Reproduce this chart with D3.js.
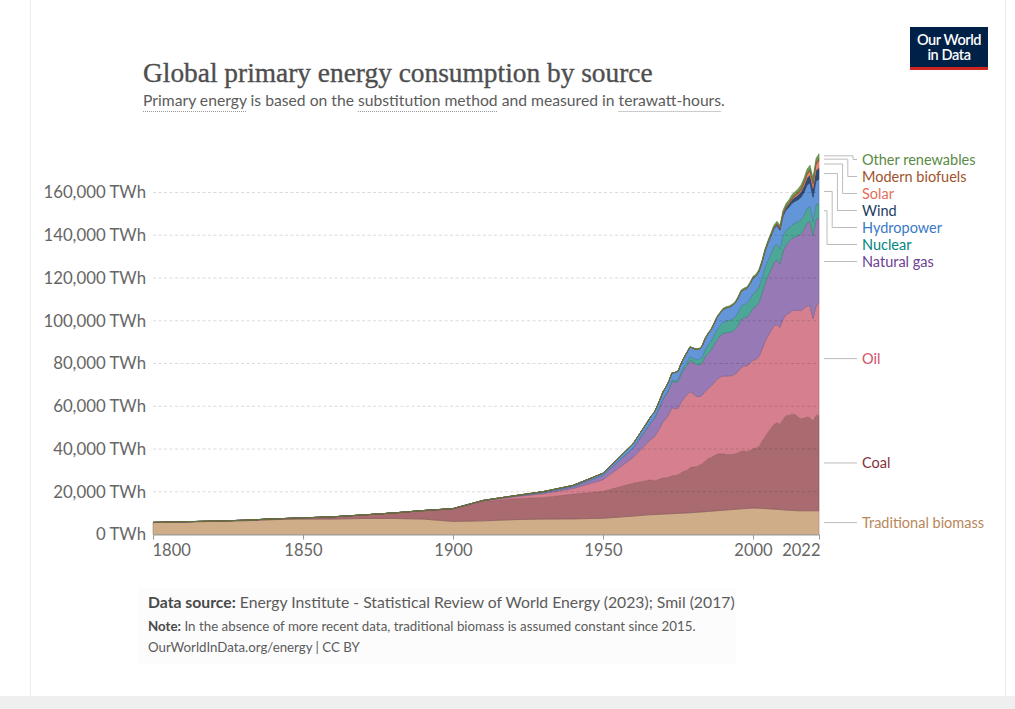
<!DOCTYPE html>
<html>
<head>
<meta charset="utf-8">
<script src="https://cdn.jsdelivr.net/npm/d3@7"></script>
<style>
  body { margin: 0; background: #fff; }
  svg { display: block; font-family: Lato, "Noto Sans", sans-serif; }
</style>
</head>
<body>
<div id="chart"></div>
<script>
// years: decadal (Smil) until 1960, then annual (Energy Institute)
const years = [1800, 1810, 1820, 1830, 1840, 1850, 1860, 1870, 1880, 1890, 1900, 1910, 1920, 1930, 1940, 1950, 1960,
  1965, 1966, 1967, 1968, 1969, 1970, 1971, 1972, 1973, 1974, 1975, 1976, 1977, 1978, 1979, 1980, 1981, 1982, 1983, 1984,
  1985, 1986, 1987, 1988, 1989, 1990, 1991, 1992, 1993, 1994, 1995, 1996, 1997, 1998, 1999, 2000, 2001, 2002, 2003, 2004,
  2005, 2006, 2007, 2008, 2009, 2010, 2011, 2012, 2013, 2014, 2015, 2016, 2017, 2018, 2019, 2020, 2021, 2022];

// values in TWh
const biomass = [5556, 5833, 6111, 6389, 6944, 7222, 7222, 7500, 7500, 7222, 6111, 6389, 6944, 7222, 7300, 7600, 8600,
  9200, 9270, 9340, 9410, 9480, 9560, 9620, 9690, 9760, 9830, 9900, 9970, 10040, 10110, 10180, 10250, 10360, 10470, 10580, 10690,
  10800, 10910, 11020, 11130, 11240, 11350, 11460, 11570, 11680, 11790, 11900, 12000, 12100, 12200, 12300, 12400, 12350, 12300, 12220, 12140,
  12060, 11960, 11860, 11760, 11660, 11560, 11470, 11380, 11290, 11200, 11111, 11111, 11111, 11111, 11111, 11111, 11111, 11111];
const coal = [97, 128, 153, 264, 356, 569, 1061, 1642, 2542, 3856, 5728, 8900, 9800, 10100, 11600, 12600, 15400,
  16140, 16330, 15810, 16110, 16580, 16950, 16950, 17220, 17780, 17780, 18060, 18890, 19720, 20000, 21110, 21390, 21390, 21950, 22500, 23610,
  24720, 25000, 25830, 26390, 26670, 26390, 26110, 25830, 25830, 25830, 26390, 26950, 26950, 26670, 26950, 27780, 28060, 28890, 31390, 33610,
  35830, 37780, 39720, 40560, 40000, 42220, 44170, 44450, 45000, 45000, 43890, 43060, 43340, 43890, 43610, 41950, 44730, 44730];
const oil = [0, 0, 0, 0, 0, 0, 0, 6, 33, 89, 181, 417, 889, 1756, 2653, 5444, 12000,
  17800, 19100, 20400, 22100, 23900, 26200, 27600, 29400, 31800, 31200, 31100, 32900, 34100, 35200, 35600, 34200, 33000, 32100, 32000, 32600,
  32600, 33500, 34100, 35100, 35700, 36500, 36500, 36900, 36800, 37500, 38000, 39000, 39900, 40000, 40900, 41400, 41600, 42100, 43000, 44500,
  45100, 45600, 46200, 45900, 45200, 46800, 47200, 47700, 48400, 48800, 49800, 50600, 51400, 51900, 52400, 47900, 50800, 52900];
const gas = [0, 0, 0, 0, 0, 0, 0, 0, 0, 33, 64, 142, 233, 603, 875, 2092, 4472,
  7300, 7900, 8500, 9200, 10000, 10600, 11200, 11700, 12200, 12400, 12400, 13000, 13400, 13900, 14600, 14800, 14900, 14900, 15100, 16100,
  16600, 16800, 17700, 18500, 19300, 19800, 20300, 20300, 20600, 20700, 21400, 22500, 22400, 22800, 23400, 24300, 24700, 25400, 26200, 27200,
  27900, 28600, 29700, 30400, 29700, 31900, 32600, 33500, 33900, 34200, 35000, 35900, 36900, 38900, 39500, 38700, 40800, 39400];
const nuclear = [0, 0, 0, 0, 0, 0, 0, 0, 0, 0, 0, 0, 0, 0, 0, 0, 0,
  70, 90, 110, 140, 170, 220, 310, 420, 560, 730, 1010, 1160, 1390, 1650, 1710, 1900, 2250, 2420, 2760, 3290,
  3860, 4150, 4500, 4830, 5000, 5250, 5520, 5550, 5780, 5900, 6130, 6350, 6300, 6430, 6660, 6860, 7050, 7180, 7130, 7380,
  7390, 7470, 7290, 7240, 7120, 7300, 6950, 6360, 6390, 6530, 6600, 6660, 6690, 6800, 6980, 6790, 6960, 6700];
const hydro = [0, 0, 0, 0, 0, 0, 0, 0, 0, 0, 50, 100, 180, 370, 540, 930, 1900,
  2560, 2700, 2780, 2880, 3050, 3220, 3350, 3480, 3540, 3840, 3930, 3960, 4060, 4350, 4560, 4640, 4740, 4870, 5050, 5210,
  5320, 5390, 5460, 5640, 5620, 5980, 6140, 6140, 6410, 6480, 6780, 6860, 6960, 7040, 7080, 7290, 7160, 7300, 7310, 7740,
  8060, 8290, 8380, 8710, 8690, 9230, 9420, 9790, 10010, 10180, 10150, 10480, 10610, 10890, 10930, 11320, 11120, 11290];
const wind = [0, 0, 0, 0, 0, 0, 0, 0, 0, 0, 0, 0, 0, 0, 0, 0, 0,
  0, 0, 0, 0, 0, 0, 0, 0, 0, 0, 0, 0, 0, 0, 0, 0, 0, 0, 0, 0,
  0, 0, 0, 0, 0, 10, 10, 12, 15, 20, 25, 30, 35, 45, 60, 85, 105, 145, 175, 230,
  285, 360, 460, 600, 750, 930, 1160, 1370, 1730, 1920, 2210, 2530, 3000, 3320, 3690, 4120, 4790, 5490];
const solar = [0, 0, 0, 0, 0, 0, 0, 0, 0, 0, 0, 0, 0, 0, 0, 0, 0,
  0, 0, 0, 0, 0, 0, 0, 0, 0, 0, 0, 0, 0, 0, 0, 0, 0, 0, 0, 0,
  0, 0, 0, 0, 0, 0, 0, 0, 0, 0, 0, 0, 0, 0, 0, 0, 0, 0, 0, 0,
  10, 15, 20, 35, 55, 90, 180, 270, 370, 500, 690, 880, 1180, 1490, 1840, 2220, 2720, 3450];
const biofuels = [0, 0, 0, 0, 0, 0, 0, 0, 0, 0, 0, 0, 0, 0, 0, 0, 0,
  0, 0, 0, 0, 0, 0, 0, 0, 0, 0, 0, 0, 0, 0, 0, 30, 40, 50, 60, 70,
  80, 90, 90, 90, 90, 100, 100, 100, 100, 100, 110, 110, 110, 110, 110, 110, 120, 140, 160, 180,
  220, 280, 360, 460, 520, 590, 600, 610, 660, 720, 750, 780, 820, 900, 960, 920, 1010, 1100];
const otherRenewables = [0, 0, 0, 0, 0, 0, 0, 0, 0, 0, 0, 0, 0, 0, 0, 0, 40,
  60, 60, 65, 70, 75, 80, 85, 95, 105, 110, 120, 125, 135, 145, 160, 175, 190, 210, 235, 270,
  300, 320, 340, 355, 390, 420, 440, 460, 480, 500, 520, 540, 560, 580, 600, 610, 620, 650, 690, 720,
  760, 800, 850, 900, 950, 1040, 1100, 1180, 1260, 1350, 1430, 1500, 1590, 1680, 1760, 1820, 1900, 1950];

const yTicks = [0, 20000, 40000, 60000, 80000, 100000, 120000, 140000, 160000];
const xTicks = [1800, 1850, 1900, 1950, 2000, 2022];

// bottom to top
const series = [
  { key: "biomass", name: "Traditional biomass", values: biomass, fill: "#cfad89", label: "#b8875a" },
  { key: "coal", name: "Coal", values: coal, fill: "#a96b70", label: "#883039" },
  { key: "oil", name: "Oil", values: oil, fill: "#d6808f", label: "#d0506a" },
  { key: "gas", name: "Natural gas", values: gas, fill: "#977ab5", label: "#6d3e91" },
  { key: "nuclear", name: "Nuclear", values: nuclear, fill: "#4ca797", label: "#00847e" },
  { key: "hydro", name: "Hydropower", values: hydro, fill: "#6396d8", label: "#3a78c9" },
  { key: "wind", name: "Wind", values: wind, fill: "#2f4a75", label: "#1d3d63" },
  { key: "solar", name: "Solar", values: solar, fill: "#ef8a72", label: "#e56e5a" },
  { key: "biofuels", name: "Modern biofuels", values: biofuels, fill: "#b0603c", label: "#a0532c" },
  { key: "other", name: "Other renewables", values: otherRenewables, fill: "#6e9e50", label: "#5a8a45" }
];

const width = 1015, height = 709;
const margin = { top: 192.5, right: 196, bottom: 174.5, left: 153 };

const svg = d3.select("#chart").append("svg")
  .attr("width", width).attr("height", height)
  .attr("viewBox", [0, 0, width, height]);

// page frame
svg.append("rect").attr("x", 0).attr("y", 696).attr("width", width).attr("height", 13).attr("fill", "#efefef");
svg.append("line").attr("x1", 30.5).attr("x2", 30.5).attr("y1", 0).attr("y2", 696).attr("stroke", "#ececec");
svg.append("line").attr("x1", 1005.5).attr("x2", 1005.5).attr("y1", 0).attr("y2", 696).attr("stroke", "#ececec");
svg.append("rect").attr("x", 138).attr("y", 588).attr("width", 598).attr("height", 76).attr("fill", "#fcfcfc");

// build the table for d3.stack
const table = years.map((yr, i) => {
  const row = { year: yr };
  series.forEach(s => row[s.key] = s.values[i]);
  return row;
});

const x = d3.scaleLinear().domain([1800, 2022]).range([margin.left, width - margin.right]);
const y = d3.scaleLinear().domain([0, 160000]).range([height - margin.bottom, margin.top]);

// y labels
svg.append("g")
  .attr("transform", `translate(${margin.left},0)`)
  .call(d3.axisLeft(y).tickValues(yTicks).tickSize(0).tickPadding(7)
    .tickFormat(d => d3.format(",")(d) + " TWh"))
  .call(g => g.select(".domain").remove())
  .call(g => g.selectAll("text").attr("fill", "#666").attr("font-size", 16.8)
    .attr("font-family", "Lato, sans-serif"));

const stack = d3.stack().keys(series.map(s => s.key));
const stacked = stack(table);

const area = d3.area()
  .x(d => x(d.data.year))
  .y0(d => y(d[0]))
  .y1(d => y(d[1]));

svg.append("g")
  .selectAll("path")
  .data(stacked)
  .join("path")
  .attr("d", area)
  .attr("fill", (d, i) => series[i].fill)
  .attr("stroke", (d, i) => d3.color(series[i].fill).darker(0.7))
  .attr("stroke-width", 0.6);

// dashed grid lines on top of the areas
svg.append("g")
  .selectAll("line")
  .data(yTicks.filter(d => d > 0))
  .join("line")
  .attr("x1", margin.left).attr("x2", width - margin.right)
  .attr("y1", d => y(d)).attr("y2", d => y(d))
  .attr("stroke", "#000").attr("stroke-opacity", 0.14)
  .attr("stroke-dasharray", "3,2.5");

// x axis
const xAxis = svg.append("g")
  .attr("transform", `translate(0,${y(0)})`)
  .call(d3.axisBottom(x).tickValues(xTicks).tickFormat(d3.format("d")).tickSize(5).tickPadding(5).tickSizeOuter(0));
xAxis.select(".domain").attr("stroke", "#999");
xAxis.selectAll(".tick line").attr("stroke", "#999");
xAxis.selectAll("text").attr("fill", "#666").attr("font-size", 16.5).attr("font-family", "Lato, sans-serif");
xAxis.selectAll(".tick").filter(d => d === 2022).select("text").attr("text-anchor", "end").attr("dx", 1);
xAxis.selectAll(".tick").filter(d => d === 1800).select("text").attr("text-anchor", "start").attr("dx", -1);

// labels at the right with connector lines
const last = stacked.map((layer, i) => {
  const d = layer[layer.length - 1];
  return { name: series[i].name, color: series[i].label, mid: y((d[0] + d[1]) / 2) };
});
const labels = last.slice().reverse();  // top first
const gap = 17, legendTop = 159.5;
let prev = legendTop - gap;
labels.forEach(l => {
  l.ly = Math.max(l.mid, prev + gap);
  prev = l.ly;
});
const x0 = width - margin.right + 5, x1 = 857;
const cluster = labels.filter(l => Math.abs(l.ly - l.mid) > 2);
cluster.forEach((l, i) => { l.step = 853 - i * (26 / Math.max(1, cluster.length - 1)); });

const leg = svg.append("g");
leg.selectAll("path")
  .data(labels)
  .join("path")
  .attr("fill", "none")
  .attr("stroke", "#bbb")
  .attr("stroke-width", 1)
  .attr("d", l => l.step
    ? `M${x0},${l.mid}H${l.step}V${l.ly}H${x1}`
    : `M${x0},${l.ly}H${x1}`);

leg.selectAll("text")
  .data(labels)
  .join("text")
  .attr("x", 862)
  .attr("y", l => l.ly)
  .attr("dy", "0.36em")
  .attr("fill", l => l.color)
  .attr("font-size", 14.5)
  .text(l => l.name);

// fit a text element to a target width
function fit(sel, target) {
  const w = sel.node().getComputedTextLength();
  const fs = parseFloat(sel.attr("font-size"));
  sel.attr("font-size", fs * target / w);
}

// title
const title = svg.append("text")
  .attr("x", 143).attr("y", 82)
  .attr("font-family", "'Liberation Serif', 'DejaVu Serif', serif")
  .attr("font-size", 28)
  .attr("fill", "#4e4e4e")
  .attr("stroke", "#4e4e4e").attr("stroke-width", 0.35)
  .text("Global primary energy consumption by source");
fit(title, 510);

// subtitle with dotted underlines
const parts = [
  { t: "Primary energy", u: true }, { t: " is based on the " },
  { t: "substitution method", u: true }, { t: " and measured in " },
  { t: "terawatt-hours", u: true }, { t: "." }
];
const sub = svg.append("text")
  .attr("x", 143).attr("y", 106)
  .attr("font-size", 15.5)
  .attr("fill", "#5b5b5b");
sub.selectAll("tspan").data(parts).join("tspan").text(d => d.t);
fit(sub, 582);
let idx = 0;
parts.forEach(p => {
  if (p.u) {
    const node = sub.node();
    const sx = node.getStartPositionOfChar(idx).x;
    const w = node.getSubStringLength(idx, p.t.length);
    svg.append("line")
      .attr("x1", sx).attr("x2", sx + w)
      .attr("y1", 111.5).attr("y2", 111.5)
      .attr("stroke", "#999").attr("stroke-dasharray", "1,1");
  }
  idx += p.t.length;
});

// logo
svg.append("rect").attr("x", 910).attr("y", 27).attr("width", 78).attr("height", 41).attr("fill", "#002147");
svg.append("rect").attr("x", 910).attr("y", 67).attr("width", 78).attr("height", 3).attr("fill", "#ce261e");
svg.append("text").attr("x", 949).attr("y", 44.5).attr("text-anchor", "middle")
  .attr("fill", "#fff").attr("font-size", 14.5).attr("font-weight", 600).attr("letter-spacing", -0.4).text("Our World");
svg.append("text").attr("x", 949).attr("y", 59.5).attr("text-anchor", "middle")
  .attr("fill", "#fff").attr("font-size", 14.5).attr("font-weight", 600).attr("letter-spacing", -0.4).text("in Data");

// footer
const src = svg.append("text").attr("x", 148).attr("y", 608).attr("font-size", 15).attr("fill", "#5b5b5b");
src.append("tspan").attr("font-weight", 700).attr("fill", "#4a4a4a").text("Data source:");
src.append("tspan").text(" Energy Institute - Statistical Review of World Energy (2023); Smil (2017)");
fit(src, 587);

const note = svg.append("text").attr("x", 148).attr("y", 631).attr("font-size", 13).attr("fill", "#5b5b5b");
note.append("tspan").attr("font-weight", 700).attr("fill", "#4a4a4a").text("Note:");
note.append("tspan").text(" In the absence of more recent data, traditional biomass is assumed constant since 2015.");
fit(note, 548);

const url = svg.append("text").attr("x", 148).attr("y", 652).attr("font-size", 13).attr("fill", "#5b5b5b")
  .text("OurWorldInData.org/energy | CC BY");
fit(url, 212);
</script>
</body>
</html>
